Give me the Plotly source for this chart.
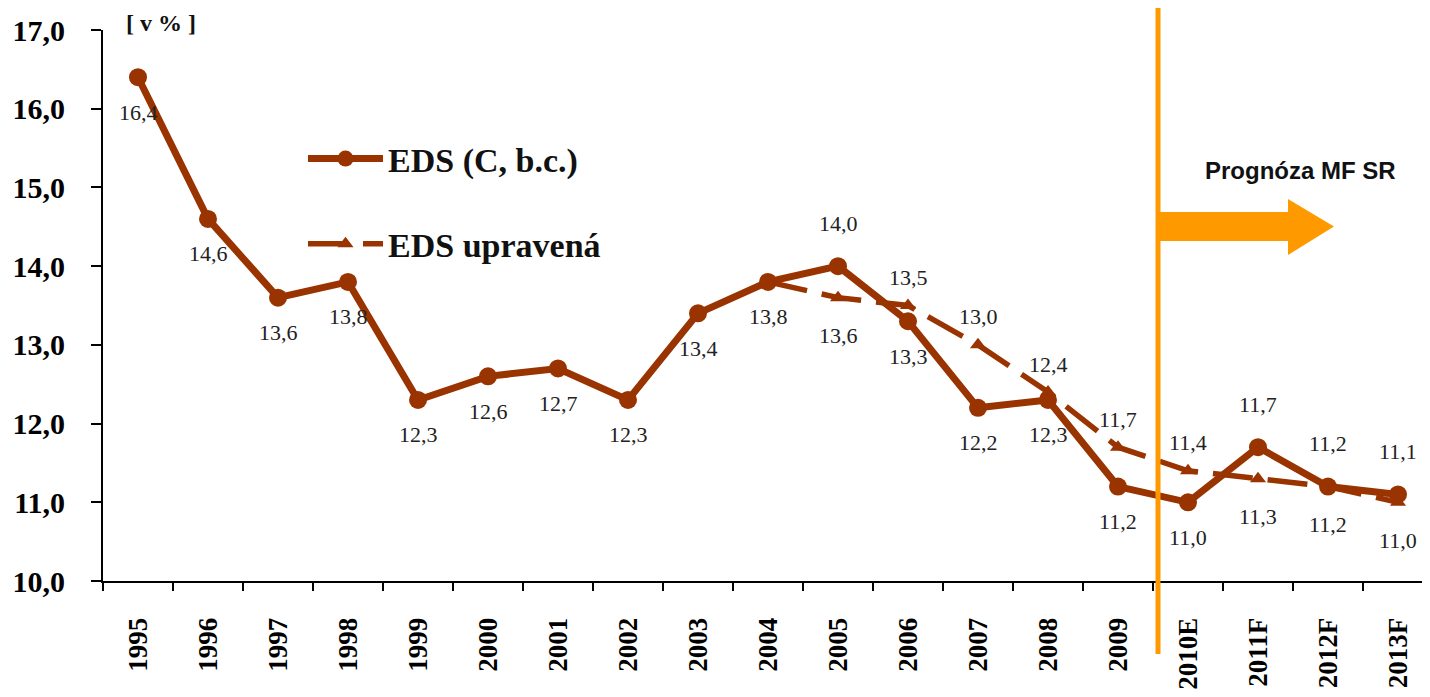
import plotly.graph_objects as go

categories = ["1995", "1996", "1997", "1998", "1999", "2000", "2001", "2002", "2003",
              "2004", "2005", "2006", "2007", "2008", "2009", "2010E", "2011F", "2012F", "2013F"]
eds = [16.4, 14.6, 13.6, 13.8, 12.3, 12.6, 12.7, 12.3, 13.4, 13.8, 14.0, 13.3, 12.2, 12.3,
       11.2, 11.0, 11.7, 11.2, 11.1]
eds_adj = [None, None, None, None, None, None, None, None, None, 13.8, 13.6, 13.5, 13.0, 12.4,
           11.7, 11.4, 11.3, 11.2, 11.0]
eds_adj_show_label = [False] * 10 + [True] * 9

# label placement (style): +1 above, -1 below
eds_pos = [-1, -1, -1, -1, -1, -1, -1, -1, -1, -1, 1, -1, -1, -1, -1, -1, 1, 1, 1]
adj_pos = [0] * 10 + [-1, 1, 1, 1, 1, 1, -1, -1, -1]

BROWN = "#993300"
ORANGE = "#FF9900"
SERIF = "Liberation Serif, Times New Roman, serif"

def fmt(v):
    return f"{v:.1f}".replace(".", ",")

fig = go.Figure()
fig.add_trace(go.Scatter(
    x=categories, y=eds, mode="lines+markers", name="EDS (C, b.c.)",
    line=dict(color=BROWN, width=7), marker=dict(color=BROWN, size=18, symbol="circle"),
    legendgroup="a",
))
fig.add_trace(go.Scatter(
    x=categories, y=eds_adj, mode="lines+markers", name="EDS upravená",
    line=dict(color=BROWN, width=5.5, dash="40px,15px"),
    marker=dict(color=BROWN, size=14, symbol="triangle-up"),
    legendgroup="b", connectgaps=False,
))

LABEL_FONT = dict(family=SERIF, size=22, color="#222222")
annotations = []
for i, (v, p) in enumerate(zip(eds, eds_pos)):
    annotations.append(dict(x=i, y=v, xref="x", yref="y", text=fmt(v), showarrow=False,
                            yshift=43 if p > 0 else -35, font=LABEL_FONT))
for i, (v, p, s) in enumerate(zip(eds_adj, adj_pos, eds_adj_show_label)):
    if v is None or not s:
        continue
    annotations.append(dict(x=i, y=v, xref="x", yref="y", text=fmt(v), showarrow=False,
                            yshift=28 if p > 0 else -38, font=LABEL_FONT))

# page is offset by the 8px body margin; convert screen pixels to paper fractions
SX0, SPW = 103.0, 1330.0
SY_BOTTOM, SPH = 581.0, 551.0
def px2paper_x(px):
    return (px - SX0) / SPW
def px2paper_y(py):
    return (SY_BOTTOM - py) / SPH

annotations.append(dict(xref="paper", yref="paper", x=px2paper_x(124), y=px2paper_y(8),
                        xanchor="left", yanchor="top", text="<b>[ v % ]</b>",
                        showarrow=False,
                        font=dict(family=SERIF, size=24, color="#111111")))
annotations.append(dict(xref="paper", yref="paper", x=px2paper_x(1300), y=px2paper_y(170),
                        xanchor="center", yanchor="middle", text="<b>Prognóza MF SR</b>",
                        showarrow=False,
                        font=dict(family="Liberation Sans, Arial, sans-serif", size=24,
                                  color="#111111")))

shapes = []
shapes.append(dict(type="line", xref="paper", yref="paper",
                   x0=px2paper_x(1158), x1=px2paper_x(1158),
                   y0=px2paper_y(654), y1=px2paper_y(0),
                   line=dict(color=ORANGE, width=5)))
ax0, ax1, ax2 = px2paper_x(1158), px2paper_x(1288), px2paper_x(1334)
s0, s1 = px2paper_y(212), px2paper_y(241)
h0, h1, hm = px2paper_y(199), px2paper_y(255), px2paper_y(226.5)
path = (f"M {ax0},{s0} L {ax1},{s0} L {ax1},{h0} L {ax2},{hm} L {ax1},{h1} "
        f"L {ax1},{s1} L {ax0},{s1} Z")
shapes.append(dict(type="path", xref="paper", yref="paper", path=path,
                   fillcolor=ORANGE, line=dict(color=ORANGE, width=0)))

fig.update_layout(
    width=1430, height=697,
    margin=dict(l=95, r=5, t=22, b=124, autoexpand=False),
    paper_bgcolor="white", plot_bgcolor="white",
    separators=", ",
    showlegend=True,
    legend=dict(x=px2paper_x(303), y=px2paper_y(130), xanchor="left", yanchor="top",
                bgcolor="rgba(0,0,0,0)", tracegroupgap=38,
                font=dict(family=SERIF, size=34, color="#111111", weight="bold"),
                itemwidth=75),
    xaxis=dict(type="category", range=[-0.5, 18.5], showgrid=False, zeroline=False,
               automargin=False,
               showline=True, linecolor="black", linewidth=2,
               ticks="outside", ticklen=8, tickcolor="black", tickwidth=2,
               tickson="boundaries", tickangle=-90, ticklabelstandoff=24,
               tickfont=dict(family=SERIF, size=27, color="black", weight="bold")),
    yaxis=dict(range=[10, 17], dtick=1, tickformat=".1f", showgrid=False, zeroline=False,
               automargin=False,
               showline=True, linecolor="black", linewidth=2,
               ticks="outside", ticklen=10, tickcolor="black", tickwidth=2,
               ticklabelstandoff=20,
               tickfont=dict(family=SERIF, size=30, color="black", weight="bold")),
    annotations=annotations,
    shapes=shapes,
)

fig.write_html("out.html")
